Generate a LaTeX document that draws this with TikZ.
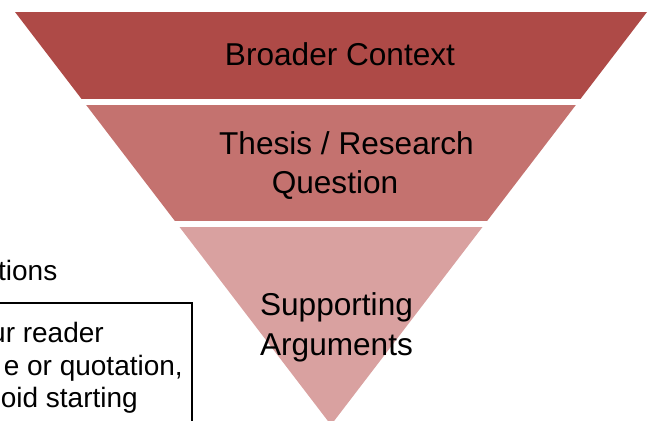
\documentclass[tikz,border=0pt]{standalone}
\usepackage{fontspec}
\setmainfont{Liberation Sans}
\definecolor{bandA}{RGB}{174,74,71}
\definecolor{bandB}{RGB}{196,114,111}
\definecolor{bandC}{RGB}{217,161,160}
\begin{document}
\begin{tikzpicture}[x=1pt, y=-1pt, every node/.style={inner sep=0pt}]

\tikzstyle{label}=[font=\fontsize{31.6}{39}\selectfont, anchor=base]
\tikzstyle{note}=[font=\fontsize{28}{32}\selectfont, anchor=base east]

\useasboundingbox (0,0) rectangle (650,420);
\clip (0,0) rectangle (650,420);

% the funnel, cut into three bands
\coordinate (tl) at (15,12);
\coordinate (tr) at (647,12);
\coordinate (ap) at (331,425);
\begin{scope}
  \clip (tl) -- (tr) -- (ap) -- cycle;
  \fill[bandA] (0,12) rectangle (650,98.5);
  \fill[bandB] (0,104.5) rectangle (650,220.5);
  \fill[bandC] (0,226.5) rectangle (650,430);
\end{scope}

\node[label] (ctx) at (340,65) {Broader Context};
\node[label] (thesis) at (346.5,154) {Thesis / Research};
\node[label] (question) at (335,193) {Question};
\node[label] (supp) at (336.5,315.5) {Supporting};
\node[label] (args) at (336.5,355) {Arguments};

% cut-off notes on the left
\node[note] (tions) at (57.5,280.5) {tions};
\draw[line width=2pt] (-10,303) -- (192,303) -- (192,440);
\node[note] (reader) at (104,342) {ur reader};
\node[note] (quote) at (183,375) {e or quotation,};
\node[note] (start) at (138,407) {oid starting};
\end{tikzpicture}
\end{document}
